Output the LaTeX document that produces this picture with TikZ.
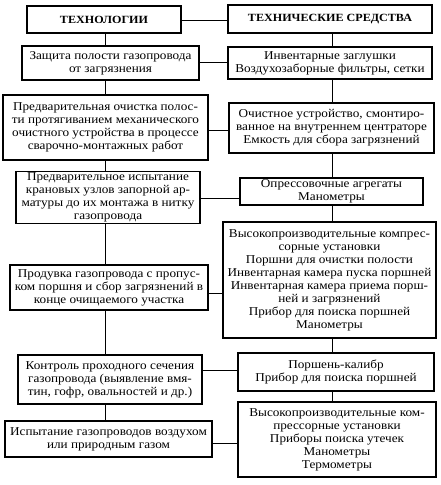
\documentclass[tikz,border=0pt]{standalone}
\usepackage{fontspec}
\setmainfont{Liberation Serif}[FakeStretch=1.1]
\usetikzlibrary{positioning}

\begin{document}
\begin{tikzpicture}[
      x=1pt, y=-1pt,
      box/.style={draw, line width=1.1pt, align=center, inner sep=1pt,
        font=\fontsize{12}{13}\selectfont},
      head/.style={box, line width=2pt, font=\fontsize{11}{13}\selectfont\bfseries},
      link/.style={line width=1pt}
    ]
    \useasboundingbox (0,0) rectangle (441,485);
    \coordinate (ls) at (105,0);
    \coordinate (rs) at (332,0);
    \node[head, minimum width=154pt, minimum height=27pt] (hL) at (104,19.5) {ТЕХНОЛОГИИ};
    \node[head, minimum width=204pt, minimum height=28pt] (hR) at (330,19) {ТЕХНИЧЕСКИЕ СРЕДСТВА};
    \node[box, minimum width=177pt, minimum height=34pt] (L1) at (110.5,63)
      {Защита полости газопровода\\от загрязнения};
    \node[box, minimum width=204pt, minimum height=32pt] (R1) at (330,63)
      {Инвентарные заглушки\\Воздухозаборные фильтры, сетки};
    \node[box, minimum width=205pt, minimum height=65pt] (L2) at (105.5,127.5)
      {Предварительная очистка полос-\\ти протягиванием механического\\очистного устройства в процессе\\сварочно-монтажных работ};
    \node[box, minimum width=205pt, minimum height=50pt] (R2) at (331.5,128)
      {Очистное устройство, смонтиро-\\ванное на внутреннем центраторе\\Емкость для сбора загрязнений};
    \node[box, minimum width=184pt, minimum height=51pt] (L3) at (108,197.5)
      {Предварительное испытание\\крановых узлов запорной ар-\\матуры до их монтажа в нитку\\газопровода};
    \node[box, minimum width=183pt, minimum height=27pt] (R3) at (331.5,191.5)
      {Опрессовочные агрегаты\\Манометры};
    \node[box, minimum width=213pt, minimum height=116pt] (R4) at (329.5,280)
      {Высокопроизводительные компрес-\\сорные установки\\Поршни для очистки полости\\Инвентарная камера пуска поршней\\Инвентарная камера приема порш-\\ней и загрязнений\\Прибор для поиска поршней\\Манометры};
    \node[box, minimum width=198pt, minimum height=45pt] (L4) at (109,287.5)
      {Продувка газопровода с пропус-\\ком поршня и сбор загрязнений в\\конце очищаемого участка};
    \node[box, minimum width=184pt, minimum height=49pt] (L5) at (110,379.5)
      {Контроль проходного сечения\\газопровода (выявление вмя-\\тин, гофр, овальностей и др.)};
    \node[box, minimum width=196pt, minimum height=38pt] (R5) at (336,372)
      {Поршень-калибр\\Прибор для поиска поршней};
    \node[box, minimum width=207pt, minimum height=36pt] (L6) at (108.5,439)
      {Испытание газопроводов воздухом\\или природным газом};
    \node[box, minimum width=198pt, minimum height=75pt] (R6) at (337,439.5)
      {Высокопроизводительные ком-\\прессорные установки\\Приборы поиска утечек\\Манометры\\Термометры};
    \draw[link] (hL.south -| ls) -- (L1.north -| ls);
    \draw[link] (L1.south -| ls) -- (L2.north -| ls);
    \draw[link] (L2.south -| ls) -- (L3.north -| ls);
    \draw[link] (L3.south -| ls) -- (L4.north -| ls);
    \draw[link] (L4.south -| ls) -- (L5.north -| ls);
    \draw[link] (L5.south -| ls) -- (L6.north -| ls);
    \draw[link] (hR.south -| rs) -- (R1.north -| rs);
    \draw[link] (R1.south -| rs) -- (R2.north -| rs);
    \draw[link] (R2.south -| rs) -- (R3.north -| rs);
    \draw[link] (R3.south -| rs) -- (R4.north -| rs);
    \draw[link] (R4.south -| rs) -- (R5.north -| rs);
    \draw[link] (R5.south -| rs) -- (R6.north -| rs);
    \draw[link] (hL.east |- 0,20) -- (hR.west |- 0,20);
    \draw[link] (L1.east |- 0,62) -- (R1.west |- 0,62);
    \draw[link] (L2.east |- 0,130) -- (R2.west |- 0,130);
    \draw[link] (L3.east |- 0,198) -- (R3.west |- 0,198);
    \draw[link] (L4.east |- 0,293) -- (R4.west |- 0,293);
    \draw[link] (L5.east |- 0,370) -- (R5.west |- 0,370);
    \draw[link] (L6.east |- 0,443) -- (R6.west |- 0,443);
  \end{tikzpicture}
\end{document}
